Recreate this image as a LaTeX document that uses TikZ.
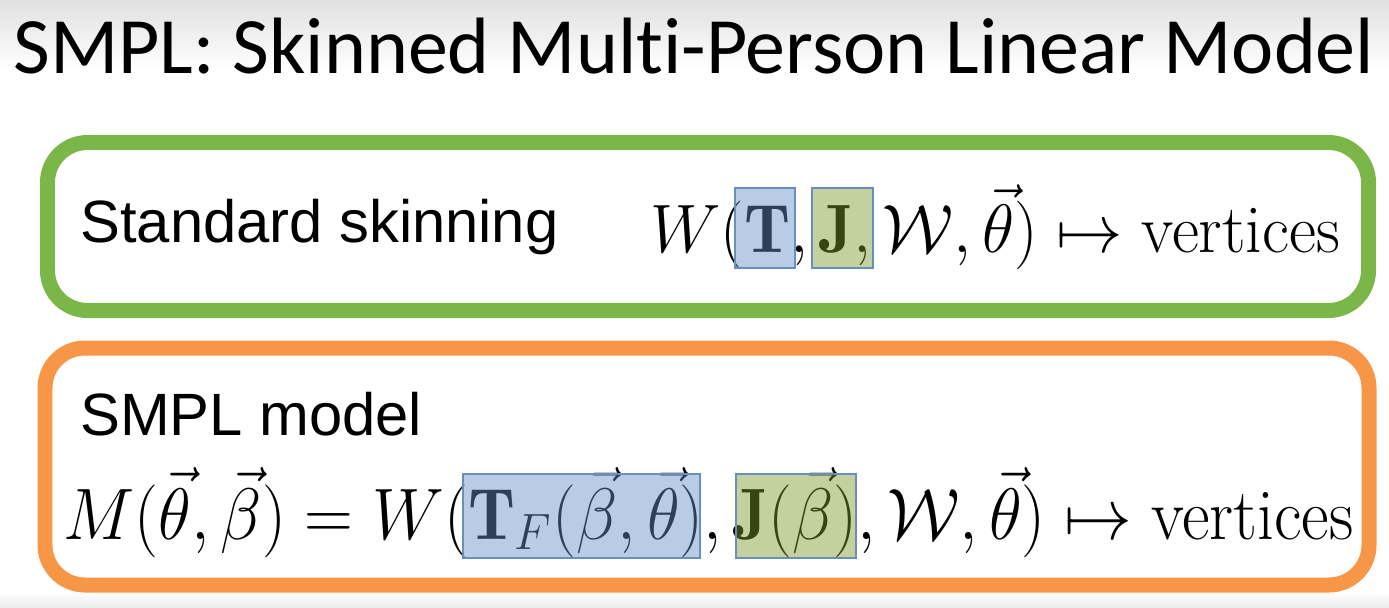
\RequirePackage{fix-cm}
\documentclass[tikz,border=0pt]{standalone}
\usepackage{amsmath}
\usepackage{amssymb}
\usepackage{xcolor}
\usepackage{graphicx}
\usepackage{fontspec}
\newfontfamily\titlefont[Ligatures=NoCommon]{Carlito}
\newfontfamily\boxfont{Liberation Sans}
\usetikzlibrary{positioning,calc,shadows}

\definecolor{skingreen}{HTML}{7AB648}
\definecolor{smplorange}{HTML}{F79646}
\definecolor{markblue}{RGB}{100,144,198}
\definecolor{markolive}{RGB}{124,151,44}
\definecolor{markline}{HTML}{6A8EC0}
\newcommand\squeeze[2]{\scalebox{#1}[1]{#2}}

\begin{document}
\begin{tikzpicture}[x=0.02cm,y=-0.02cm,
  panel/.style={line width=0.3cm,rounded corners=0.8cm,fill=white,
    drop shadow={shadow xshift=1pt,shadow yshift=-2pt,opacity=0.25}},
  heading/.style={anchor=base west,inner sep=0pt,font=\titlefont\fontsize{45.5}{54}\selectfont},
  boxtitle/.style={anchor=base west,inner sep=0pt,font=\boxfont\fontsize{34}{40}\selectfont},
  formula/.style={anchor=base west,inner sep=0pt},
  hilite/.style={draw=markline,line width=0.7pt,fill opacity=0.45}]
 \useasboundingbox (0,0) rectangle (1389,608);
 \shade[top color=black!12,bottom color=white] (0,0) rectangle (1389,70);
 \shade[top color=white,bottom color=black!8] (0,592) rectangle (1389,608);
 %
 \node[heading] (title) at (13,73) {SMPL: Skinned Multi-Person Linear Model};
 %
 \draw[panel,draw=skingreen] (47.5,142.5) rectangle (1368.5,310.5);
 \draw[panel,draw=smplorange] (45,348) rectangle (1369,585);
 %
 \node[boxtitle] (skin) at (80,242) {Standard skinning};
 \node[formula,font=\fontsize{39}{46}\selectfont] (skinf) at (650,252)
   {\squeeze{0.968}{$W(\mathbf{T},\mathbf{J},\mathcal{W},\vec{\theta})\mapsto\text{vertices}$}};
 \node[boxtitle] (smpl) at (80,435) {SMPL model};
 \node[formula,font=\fontsize{41.5}{48}\selectfont] (smplf) at (63,539)
   {\squeeze{0.928}{$M(\vec{\theta},\vec{\beta})=W(\mathbf{T}_F(\vec{\beta},\vec{\theta}),\mathbf{J}(\vec{\beta}),\mathcal{W},\vec{\theta})\mapsto\text{vertices}$}};
 %
 \filldraw[hilite,fill=markblue] (735,188) rectangle (795,268);
 \filldraw[hilite,fill=markolive] (812,188) rectangle (873,268);
 \filldraw[hilite,fill=markblue] (463,474) rectangle (700,558);
 \filldraw[hilite,fill=markolive] (736,474) rectangle (856,558);
\end{tikzpicture}
\end{document}
